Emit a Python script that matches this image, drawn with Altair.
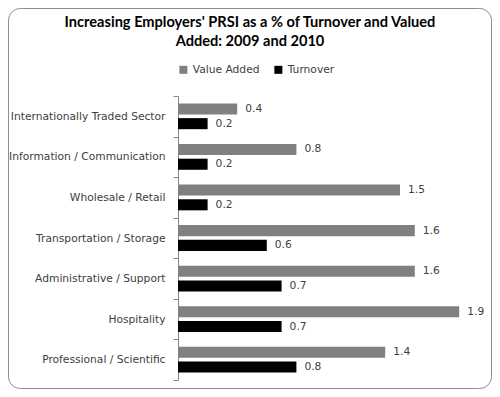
import altair as alt
import pandas as pd

categories = [
    "Internationally Traded Sector",
    "Information / Communication",
    "Wholesale / Retail",
    "Transportation / Storage",
    "Administrative / Support",
    "Hospitality",
    "Professional / Scientific",
]
series = ["Value Added", "Turnover"]
value_added = [0.4, 0.8, 1.5, 1.6, 1.6, 1.9, 1.4]
turnover = [0.2, 0.2, 0.2, 0.6, 0.7, 0.7, 0.8]
colors = ["#808080", "#000000"]

rows = []
for c, va, t in zip(categories, value_added, turnover):
    rows.append({"sector": c, "series": series[0], "value": va})
    rows.append({"sector": c, "series": series[1], "value": t})
df = pd.DataFrame(rows)

FONT = "DejaVu Sans"

y_enc = alt.Y(
    "sector:N",
    sort=categories,
    scale=alt.Scale(paddingInner=0, paddingOuter=0),
    axis=alt.Axis(
        title=None,
        tickBand="extent",
        domainColor="#868686",
        tickColor="#868686",
        tickSize=5,
        labelPadding=8,
        labelFont=FONT,
        labelFontSize=10.7,
        labelColor="#404040",
        labelLimit=200,
    ),
)
yoff_enc = alt.YOffset(
    "series:N",
    sort=series,
    scale=alt.Scale(paddingInner=0.25, paddingOuter=0.5),
)
x_enc = alt.X("value:Q", scale=alt.Scale(domain=[0, 2]), axis=None)

bars = alt.Chart(df).mark_bar().encode(
    x=x_enc,
    y=y_enc,
    yOffset=yoff_enc,
    color=alt.Color(
        "series:N",
        sort=series,
        scale=alt.Scale(domain=series, range=colors),
        legend=alt.Legend(
            title=None,
            orient="none",
            direction="horizontal",
            legendX=0,
            legendY=-32,
            symbolType="square",
            symbolSize=64,
            symbolStrokeWidth=0,
            labelFont=FONT,
            labelFontSize=10.7,
            labelColor="#404040",
            columnPadding=13,
            padding=0,
        ),
    ),
)

labels = alt.Chart(df).mark_text(
    align="left", baseline="middle", dx=8, font=FONT, fontSize=10.7, color="#404040"
).encode(
    x=x_enc,
    y=alt.Y("sector:N", sort=categories),
    yOffset=alt.YOffset("series:N", sort=series),
    text=alt.Text("value:Q", format=".1f"),
)

border = alt.Chart(pd.DataFrame({"a": [0]})).mark_rect(
    fill=None, stroke="#8c8c8c", strokeWidth=1, cornerRadius=12
).encode(
    x=alt.value(-169.5), x2=alt.value(313.5), y=alt.value(-87.5), y2=alt.value(292.5)
)

chart = (
    alt.layer(border, bars, labels)
    .properties(
        width=296,
        height=284,
        autosize=alt.AutoSizeParams(type="none"),
        padding={"left": 170, "top": 88, "right": 18, "bottom": 9},
        title=alt.TitleParams(
            ["Increasing Employers' PRSI as a % of Turnover and Valued", "Added: 2009 and 2010"],
            font="Lato",
            fontSize=14.6,
            fontWeight="bold",
            color="#000000",
            anchor="middle",
            dx=-76,
            dy=41,
            lineHeight=19.5,
            offset=0,
        ),
    )
    .configure_view(stroke=None)
)

chart.save("out.html", embed_options={"renderer": "svg", "actions": False})
